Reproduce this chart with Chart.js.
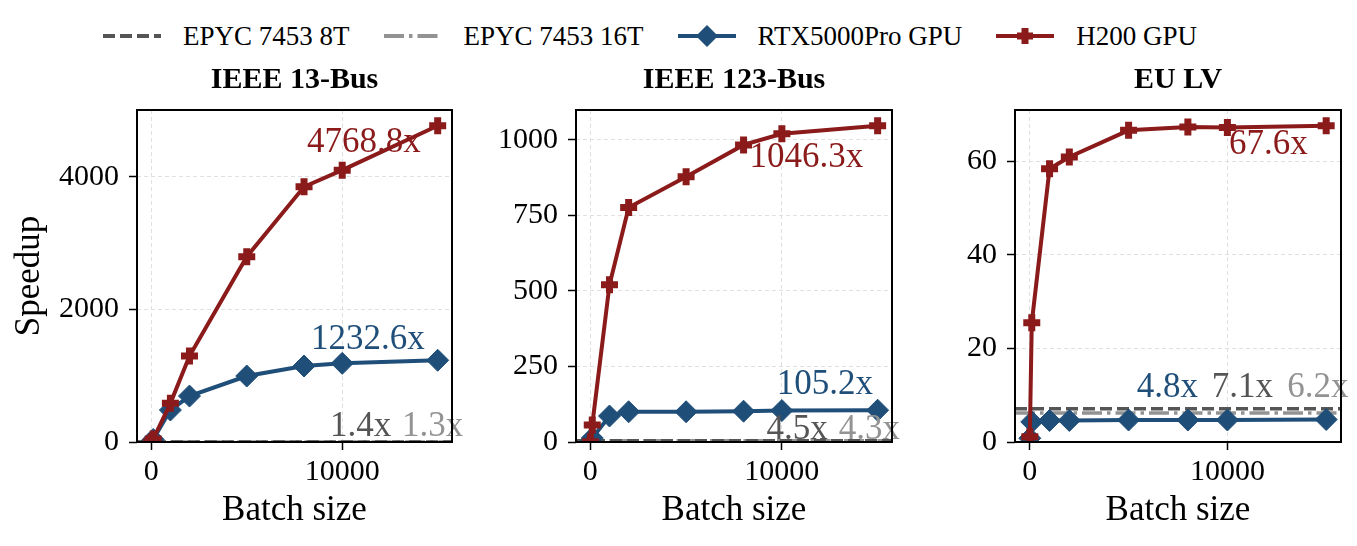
<!DOCTYPE html>
<html>
<head>
<meta charset="utf-8">
<script src="https://cdn.jsdelivr.net/npm/chart.js@4"></script>
<style>
  body { margin: 0; background: #fff; }
  #wrap { position: relative; width: 1357px; height: 546px; overflow: hidden; font-family: "Liberation Serif", "Times New Roman", serif; }
  .panel { position: absolute; top: 56px; height: 490px; }
  #legend { position: absolute; left: 103px; top: 15px; height: 42px; display: flex; align-items: center; font-size: 27px; color: #000; white-space: nowrap; }
  .item { display: flex; align-items: center; margin-right: 34px; }
  .item svg { margin-right: 22px; }
</style>
</head>
<body>
<div id="wrap">
  <div id="legend"></div>
  <div class="panel" style="left:0px;width:470px"><canvas id="c0" width="470" height="490"></canvas></div>
  <div class="panel" style="left:470px;width:440px"><canvas id="c1" width="440" height="490"></canvas></div>
  <div class="panel" style="left:910px;width:447px"><canvas id="c2" width="447" height="490"></canvas></div>
</div>
<script>
// ---- data ----
var batchSizes = [1, 100, 1000, 2000, 5000, 8000, 10000, 15000];
var panelTitles = ['IEEE 13-Bus', 'IEEE 123-Bus', 'EU LV'];

var h200_13  = [1.2, 45, 583, 1296, 2794, 3849, 4100, 4768.8];
var rtx_13   = [1.0, 38, 482, 693, 995, 1146, 1186, 1232.6];
var h200_123 = [1.1, 56, 520, 776, 878, 983, 1020, 1046.3];
var rtx_123  = [1.0, 13, 86, 100, 100, 102, 104, 105.2];
var h200_eu  = [1.1, 25.5, 58.4, 60.9, 66.6, 67.3, 67.2, 67.6];
var rtx_eu   = [0.8, 4.3, 4.6, 4.6, 4.7, 4.7, 4.7, 4.8];

var cpu8t  = [1.4, 4.5, 7.1];
var cpu16t = [1.3, 4.3, 6.2];

var xTicks = [0, 10000];
var yTicks13  = [0, 2000, 4000];
var yTicks123 = [0, 250, 500, 750, 1000];
var yTicksEu  = [0, 20, 40, 60];

// ---- style ----
var RED = '#8b1a1a', BLUE = '#1f4e79', GRAY8 = '#555555', GRAY16 = '#939393';
var FONT = '"Liberation Serif", "Times New Roman", serif';
Chart.defaults.font.family = FONT;
Chart.defaults.color = '#000';

var X_MIN = -749, X_MAX = 15750;

var panels = [
  { id: 'c0', h200: h200_13, rtx: rtx_13, yTicks: yTicks13, yMax: 5007, yWidth: 137, rightPad: 18, yTitle: 'Speedup',
    labels: [[8155, 4509], [8364, 1538], [9362, 226], [13134, 226]] },
  { id: 'c1', h200: h200_123, rtx: rtx_123, yTicks: yTicks123, yMax: 1098.6, yWidth: 106, rightPad: 18, yTitle: '',
    labels: [[8312, 940], [9727, 189], [9203, 40], [12974, 40]] },
  { id: 'c2', h200: h200_eu, rtx: rtx_eu, yTicks: yTicksEu, yMax: 70.94, yWidth: 105, rightPad: 16, yTitle: '',
    labels: [[10077, 63.5], [5416, 11.54], [9203, 11.54], [13026, 11.54]] }
];

function pts(ys) {
  return batchSizes.map(function (b, i) { return { x: b, y: ys[i] }; });
}
function hline(v) {
  return [{ x: X_MIN, y: v }, { x: X_MAX, y: v }];
}

var framePlugin = {
  id: 'frame',
  afterDatasetsDraw: function (chart) {
    var ctx = chart.ctx, a = chart.chartArea, p = chart.options.plugins.frame;
    var xs = chart.scales.x, ys = chart.scales.y;
    ctx.save();
    ctx.font = '35px ' + FONT;
    ctx.textAlign = 'left';
    ctx.textBaseline = 'middle';
    var texts = [p.h200[p.h200.length - 1].toFixed(1) + 'x', p.rtx[p.rtx.length - 1].toFixed(1) + 'x',
                 p.c8.toFixed(1) + 'x', p.c16.toFixed(1) + 'x'];
    var cols = [RED, BLUE, GRAY8, GRAY16];
    for (var i = 0; i < 4; i++) {
      ctx.fillStyle = cols[i];
      ctx.fillText(texts[i], xs.getPixelForValue(p.labels[i][0]), ys.getPixelForValue(p.labels[i][1]));
    }
    ctx.strokeStyle = '#000';
    ctx.lineWidth = 2;
    ctx.strokeRect(a.left, a.top, a.right - a.left, a.bottom - a.top);
    // panel title, centred over the plot area
    ctx.fillStyle = '#000';
    ctx.font = 'bold 30px ' + FONT;
    ctx.textAlign = 'center';
    ctx.fillText(p.title, (a.left + a.right) / 2, a.top - 30);
    ctx.restore();
  }
};

function plainTick(v) { return String(v); }

panels.forEach(function (p, k) {
  new Chart(document.getElementById(p.id), {
    type: 'line',
    data: {
      datasets: [
        { label: 'H200 GPU', data: pts(p.h200), borderColor: RED, backgroundColor: RED, borderWidth: 4,
          pointStyle: 'cross', pointRadius: 8.5, pointBorderWidth: 7, order: 0 },
        { label: 'RTX5000Pro GPU', data: pts(p.rtx), borderColor: BLUE, backgroundColor: BLUE, borderWidth: 4,
          pointStyle: 'rectRot', pointRadius: 11, pointBorderWidth: 1, order: 1 },
        { label: 'EPYC 7453 8T', data: hline(cpu8t[k]), borderColor: GRAY8, borderWidth: 3.5,
          borderDash: [12, 5], pointRadius: 0, order: 2 },
        { label: 'EPYC 7453 16T', data: hline(cpu16t[k]), borderColor: GRAY16, borderWidth: 3.5,
          borderDash: [20, 5, 3.5, 5], pointRadius: 0, order: 3 }
      ]
    },
    options: {
      responsive: false,
      animation: false,
      devicePixelRatio: 1,
      layout: { padding: { left: 0, right: p.rightPad, top: 54, bottom: 0 } },
      plugins: {
        legend: { display: false },
        tooltip: { enabled: false },
        title: { display: false },
        frame: { h200: p.h200, rtx: p.rtx, c8: cpu8t[k], c16: cpu16t[k], labels: p.labels, title: panelTitles[k] }
      },
      scales: {
        x: {
          type: 'linear', min: X_MIN, max: X_MAX,
          afterBuildTicks: function (s) { s.ticks = xTicks.map(function (v) { return { value: v }; }); },
          afterFit: function (s) { s.height = 104; },
          ticks: { font: { size: 30 }, color: '#000', padding: 4, maxRotation: 0, callback: plainTick },
          grid: { color: '#e0e0e0', lineWidth: 1, tickLength: 8, tickColor: '#000', tickWidth: 1.5, tickBorderDash: [] },
          border: { display: false, dash: [4, 3] },
          title: { display: true, text: 'Batch size', font: { size: 35 }, color: '#000', padding: { top: 0, bottom: 14.5 } }
        },
        y: {
          type: 'linear', min: 0, max: p.yMax,
          afterBuildTicks: function (s) { s.ticks = p.yTicks.map(function (v) { return { value: v }; }); },
          afterFit: function (s) { s.width = p.yWidth; },
          ticks: { font: { size: 30 }, color: '#000', padding: 10, callback: plainTick },
          grid: { color: '#e0e0e0', lineWidth: 1, tickLength: 8, tickColor: '#000', tickWidth: 1.5, tickBorderDash: [] },
          border: { display: false, dash: [4, 3] },
          title: { display: p.yTitle !== '', text: p.yTitle, font: { size: 35 }, color: '#000', padding: { top: 9, bottom: 0 } }
        }
      }
    },
    plugins: [framePlugin]
  });
});

// ---- shared legend on top ----
var legendItems = [
  { text: 'EPYC 7453 8T', color: GRAY8, dash: '12 5', marker: '' },
  { text: 'EPYC 7453 16T', color: GRAY16, dash: '20 5 3.5 5', marker: '' },
  { text: 'RTX5000Pro GPU', color: BLUE, dash: '', marker: 'diamond' },
  { text: 'H200 GPU', color: RED, dash: '', marker: 'plus' }
];
var lg = document.getElementById('legend');
legendItems.forEach(function (it) {
  var m = '';
  if (it.marker === 'diamond') m = '<polygon points="18,11 29,0 40,11 29,22" fill="' + it.color + '"/>';
  if (it.marker === 'plus') m = '<path d="M21,11 H37 M29,3 V19" stroke="' + it.color + '" stroke-width="7"/>';
  lg.insertAdjacentHTML('beforeend',
    '<div class="item"><svg width="58" height="22"><line x1="0" y1="11" x2="58" y2="11" stroke="' + it.color +
    '" stroke-width="4"' + (it.dash ? ' stroke-dasharray="' + it.dash + '"' : '') + '/>' + m +
    '</svg><span>' + it.text + '</span></div>');
});
</script>
</body>
</html>
